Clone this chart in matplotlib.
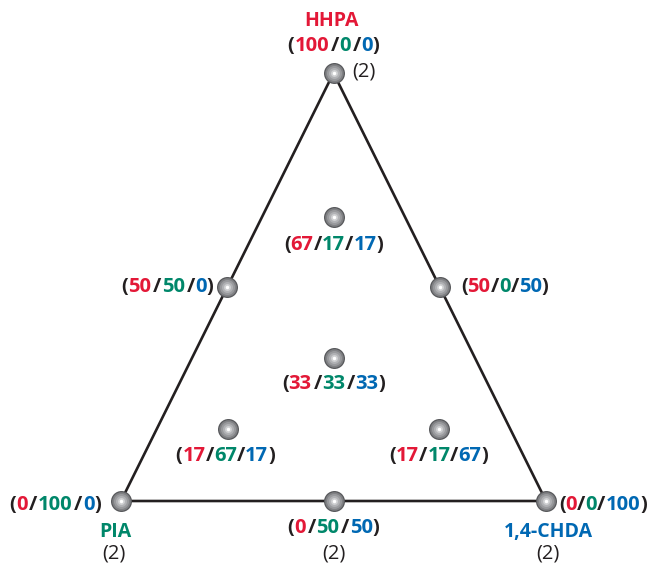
import matplotlib
matplotlib.use("Agg")
import matplotlib.pyplot as plt
from matplotlib.transforms import offset_copy

# Compositions (HHPA / PIA / 1,4-CHDA, mol %)
hhpa = [100, 67, 50, 50, 33, 17, 17, 0, 0, 0]
pia = [0, 17, 50, 0, 33, 67, 17, 100, 50, 0]
chda = [0, 17, 0, 50, 33, 17, 67, 0, 50, 100]
replicates = [2, 1, 1, 1, 1, 1, 1, 2, 2, 2]
vertex_names = ["HHPA", "PIA", "1,4-CHDA"]

RED = "#e31837"
GREEN = "#00876a"
BLUE = "#0068b3"
DARK = "#231f20"

plt.rcParams["font.family"] = ["Open Sans", "DejaVu Sans"]

fig = plt.figure(figsize=(6.53, 5.65), dpi=100)
ax = fig.add_axes([0, 0, 1, 1])
ax.set_xlim(-121 / 425, 532 / 425)
ax.set_ylim(-64 / 428, 501 / 428)
ax.axis("off")


def to_xy(a, b, c):
    tot = a + b + c
    return c / tot + 0.5 * a / tot, a / tot


xs, ys = [], []
for a, b, c in zip(hhpa, pia, chda):
    x, y = to_xy(a, b, c)
    xs.append(x)
    ys.append(y)

# triangle outline from the three pure-component points
corners = [to_xy(100, 0, 0), to_xy(0, 100, 0), to_xy(0, 0, 100)]
tx = [p[0] for p in corners] + [corners[0][0]]
ty = [p[1] for p in corners] + [corners[0][1]]
ax.plot(tx, ty, color=DARK, lw=1.9, zorder=1, solid_joinstyle="miter")

# grey "bead" markers built from concentric discs
layers = [(21, "#58595c"), (18.5, "#808184"), (15, "#999a9d"), (11, "#b1b2b5"),
          (7, "#cfd0d2"), (3.5, "#ffffff")]
for i, (d, col) in enumerate(layers):
    ax.scatter(xs, ys, s=(d * 0.72) ** 2, color=col, lw=0, zorder=3 + i)

renderer = fig.canvas.get_renderer()


def rich_label(x, y, parts, dx, dy, ha="center", size=14.5, weight="bold"):
    texts, widths = [], []
    for s, c in parts:
        t = ax.text(x, y, s, color=c, fontsize=size, fontweight=weight,
                    ha="left", va="center", zorder=10)
        widths.append(t.get_window_extent(renderer).width)
        texts.append(t)
    total = sum(widths)
    if ha == "center":
        start = dx - total / 2
    elif ha == "right":
        start = dx - total
    else:
        start = dx
    for t, w in zip(texts, widths):
        t.set_transform(offset_copy(ax.transData, fig, x=start, y=dy, units="dots"))
        start += w


# label placement: (dx, dy, ha) in pixels from the marker
placement = [(0, 27, "center"), (0, -28, "center"), (-14, 0, "right"),
             (21, 0, "left"), (0, -26, "center"), (-3, -27, "center"),
             (0, -27, "center"), (-20, -4, "right"), (0, -27, "center"),
             (13, -4, "left")]
spaced = [True, False, True, False, True, False, False, True, True, False]

for i in range(len(xs)):
    sep = "\u200a/" if spaced[i] else "/"
    parts = [("(", DARK), (str(hhpa[i]), RED), (sep, DARK), (str(pia[i]), GREEN),
             (sep, DARK), (str(chda[i]), BLUE), (")", DARK)]
    dx, dy, ha = placement[i]
    rich_label(xs[i], ys[i], parts, dx, dy, ha)

# component names
name_pos = [(-2, 52), (-6, -31), (2, -31)]
name_cols = [RED, GREEN, BLUE]
for (px, py), name, col, (dx, dy) in zip(corners, vertex_names, name_cols, name_pos):
    rich_label(px, py, [(name, col)], dx, dy, "center", size=14, weight="bold")

# replicate counts
rep_pos = {0: (30, 1), 7: (-7, -52), 8: (0, -52), 9: (2, -52)}
for i, (dx, dy) in rep_pos.items():
    rich_label(xs[i], ys[i], [(f"({replicates[i]})", DARK)], dx, dy, "center",
               size=14.5, weight="normal")

fig.savefig("out.png", dpi=100, facecolor="white")
